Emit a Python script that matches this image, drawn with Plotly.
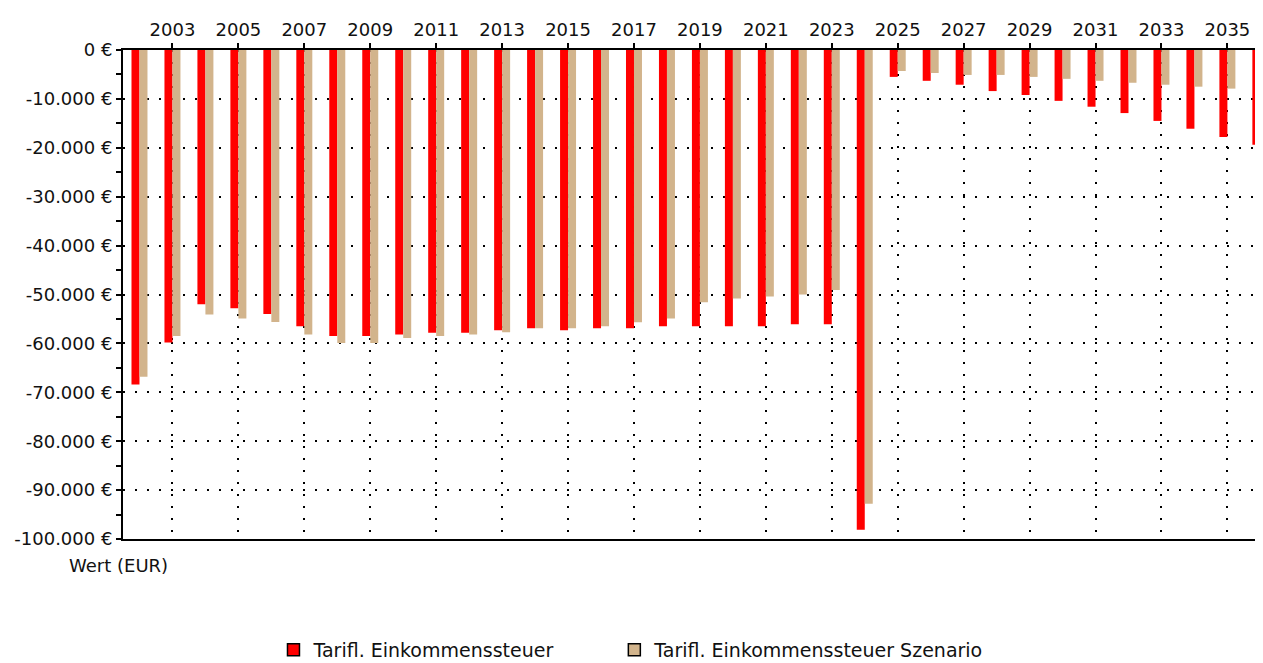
import plotly.graph_objects as go

years = list(range(2002, 2037))
tarif_est = [
    -68400, -59800, -52000, -52800, -54000, -56500, -58500, -58500, -58200, -57800,
    -57800, -57300, -56900, -57300, -56900, -56900, -56500, -56500, -56500, -56500,
    -56100, -56100, -98100, -5500, -6300, -7100, -8400, -9200, -10400, -11600,
    -12900, -14500, -16100, -17800, -19400,
]
tarif_est_szenario = [
    -66800, -58500, -54100, -54900, -55600, -58200, -59900, -59900, -58900, -58500,
    -58200, -57700, -56900, -56900, -56500, -55700, -54900, -51600, -50800, -50400,
    -50000, -49100, -92800, -4300, -4700, -5100, -5100, -5500, -5900, -6300,
    -6700, -7100, -7500, -7900, -8400,
]
series_names = ["Tarifl. Einkommenssteuer", "Tarifl. Einkommenssteuer Szenario"]
series_colors = ["#FF0000", "#D2B48C"]

x_tick_vals = list(range(2003, 2036, 2))
x_tick_labels = [str(v) for v in x_tick_vals]
y_tick_vals = list(range(0, -100001, -10000))
y_tick_labels = ["0 €", "-10.000 €", "-20.000 €", "-30.000 €", "-40.000 €", "-50.000 €",
                 "-60.000 €", "-70.000 €", "-80.000 €", "-90.000 €", "-100.000 €"]

FONT = "DejaVu Sans"
FS = 18
TXT = "#111111"

fig = go.Figure()
for name, vals, col, grp in zip(series_names, [tarif_est, tarif_est_szenario], series_colors, ["a", "b"]):
    fig.add_trace(go.Bar(x=years, y=vals, name=name, marker=dict(color=col, line=dict(width=0)),
                         offsetgroup=grp, showlegend=False))
for name, col, grp, lg in zip(series_names, series_colors, ["a", "b"], ["legend", "legend2"]):
    fig.add_trace(go.Bar(x=[None], y=[None], name=name,
                         marker=dict(color=col, line=dict(color="black", width=1.5)),
                         offsetgroup=grp, showlegend=True, legend=lg))

legend_style = dict(orientation="h", xanchor="left", y=-0.227, yanchor="middle",
                    font=dict(family=FONT, size=19, color=TXT), bgcolor="rgba(0,0,0,0)")
fig.update_layout(
    width=1255, height=663,
    margin=dict(l=115, r=0, t=42, b=132),
    paper_bgcolor="white", plot_bgcolor="white",
    barmode="group", bargap=0.515, bargroupgap=0,
    font=dict(family=FONT, size=FS, color=TXT),
    showlegend=True,
    legend=dict(x=0.132, **legend_style),
    legend2=dict(x=0.431, **legend_style),
)
fig.update_xaxes(
    side="top", range=[2001.5, 2036.08],
    tickmode="array", tickvals=x_tick_vals, ticktext=x_tick_labels,
    ticks="outside", ticklen=5, tickwidth=2, tickcolor="black",
    showline=True, linecolor="black", linewidth=2, mirror=True,
    showgrid=True, gridcolor="black", gridwidth=1.5, griddash="2px,10px",
    zeroline=False,
)
fig.update_yaxes(
    range=[-100000, 0],
    tickmode="array", tickvals=y_tick_vals, ticktext=y_tick_labels,
    ticks="outside", ticklen=5, tickwidth=2, tickcolor="black",
    minor=dict(tickmode="linear", tick0=0, dtick=5000, ticks="outside", ticklen=5,
               tickwidth=2, tickcolor="black", showgrid=False),
    showline=True, linecolor="black", linewidth=2,
    showgrid=True, gridcolor="black", gridwidth=1.5, griddash="2px,10px",
    zeroline=False,
)
fig.add_annotation(text="Wert (EUR)", xref="paper", yref="paper", x=0, y=0,
                   xanchor="left", yanchor="top", xshift=-56, yshift=-14, showarrow=False,
                   font=dict(family=FONT, size=FS, color=TXT))

fig.write_html("out.html")
